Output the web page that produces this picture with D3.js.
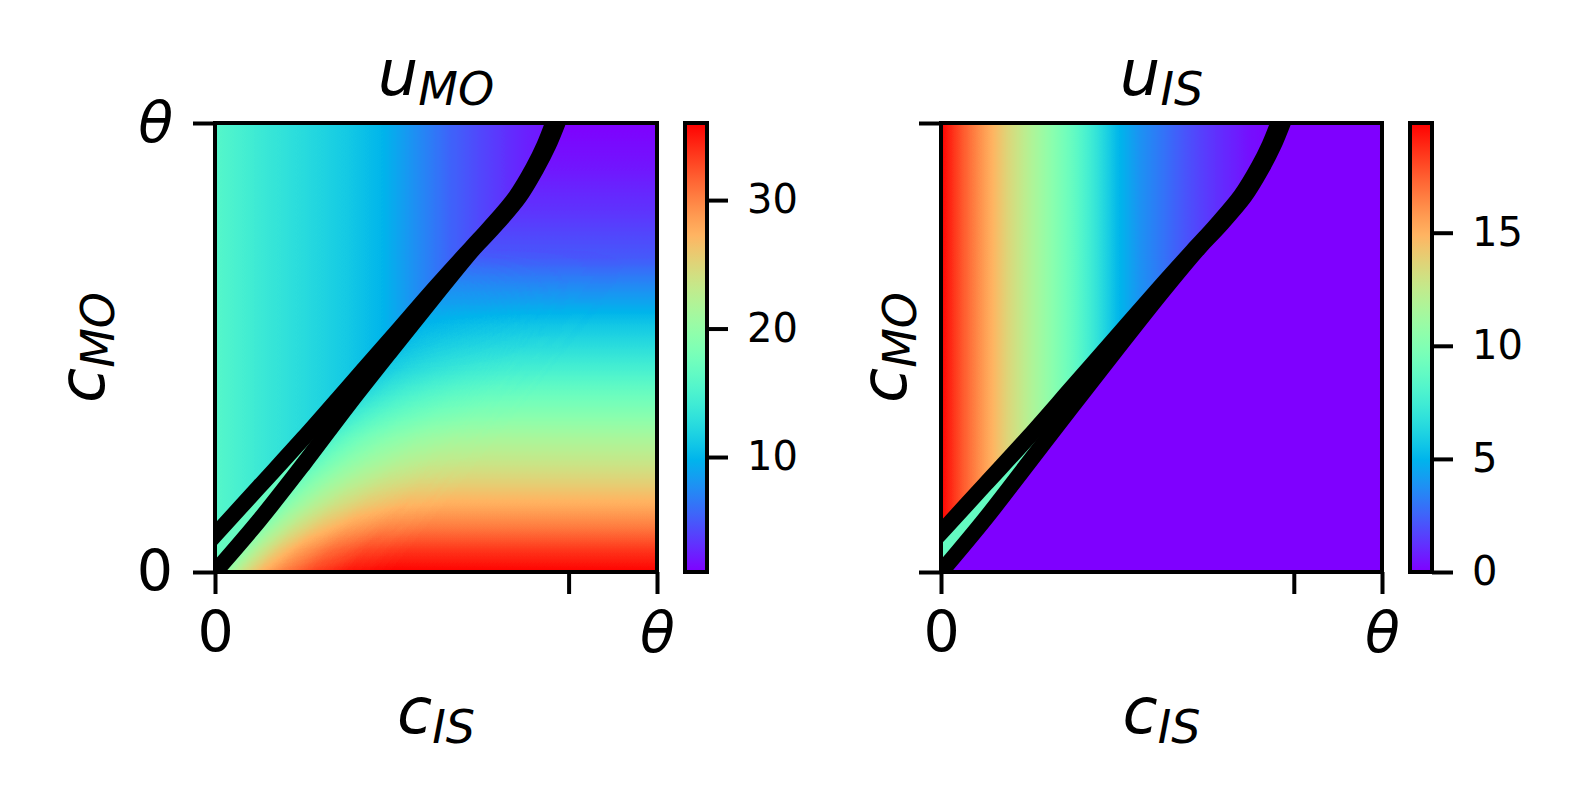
<!DOCTYPE html>
<html>
<head>
<meta charset="utf-8">
<script src="https://cdn.jsdelivr.net/npm/d3@7"></script>
<style>
  html, body { margin: 0; padding: 0; background: #fff; }
  svg { display: block; }
  text { font-family: "DejaVu Sans", sans-serif; fill: #000; }
</style>
</head>
<body>
<div id="mainDiv"></div>
<script>
'use strict';

// eixos (0 .. theta)
var xTicks = [0, 0.8, 1];
var xTickLabels = ['0', '', 'θ'];
var yTicks = [0, 1];
var yTickLabels = ['0', 'θ'];

// ---- u_MO ----
var moRange = [1.05, 36.0];
var moCbTicks = [10, 20, 30];
// region above the upper line: value depends on c_IS only
var moAX   = [0, 0.1, 0.2, 0.3, 0.38, 0.45, 0.53, 0.6, 0.68, 0.77];
var moAVal = [15.7, 14.0, 12.6, 11.2, 9.8, 7.7, 5.6, 4.2, 2.8, 1.6];
// region below the lower line: value depends on c_MO
var moBY   = [0, 0.05, 0.1, 0.15, 0.2, 0.25, 0.3, 0.35, 0.4, 0.45, 0.5, 0.55, 0.6, 0.65, 0.7, 0.8, 0.9, 1.0];
var moBVal = [36.0, 33.5, 30.4, 27.6, 25.3, 23.2, 21.3, 19.0, 16.9, 14.8, 12.8, 11.0, 8.9, 7.0, 5.0, 3.4, 2.0, 1.1];
// values right next to the lower line, and how fast they fade away from it
var moNearY   = [0, 0.1, 0.2, 0.3, 0.4, 0.5, 0.6];
var moNearVal = [15.5, 15.5, 14.8, 13.5, 11.5, 9.5, 8.0];
var moBlendDx = [0, 0.03, 0.06, 0.1, 0.15, 0.22, 0.3, 0.4];
var moBlendW  = [0.9, 0.75, 0.6, 0.44, 0.29, 0.14, 0.04, 0];
var moFadeY   = [0, 0.45, 0.6, 0.72];
var moFadeW   = [1, 1, 0.5, 0];
var moSliverVal = 16.8;
var moUpperX = [0, 0.1, 0.2, 0.3, 0.4, 0.5, 0.58, 0.62, 0.68, 0.72, 0.745, 0.765];
var moUpperY = [0.082, 0.19, 0.298, 0.41, 0.522, 0.635, 0.722, 0.765, 0.835, 0.9, 0.95, 1.0];
var moLowerX = [0, 0.1, 0.2, 0.3, 0.4, 0.5, 0.585, 0.628, 0.688, 0.728, 0.754, 0.775];
var moLowerY = [0, 0.115, 0.24, 0.37, 0.495, 0.618, 0.72, 0.765, 0.835, 0.9, 0.95, 1.0];

// ---- u_IS ----
var isRange = [0, 19.85];
var isCbTicks = [0, 5, 10, 15];
var isAX   = [0, 0.05, 0.1, 0.15, 0.2, 0.25, 0.3, 0.35, 0.4, 0.45, 0.5, 0.55, 0.6, 0.65, 0.7, 0.77];
var isAVal = [19.85, 17.6, 15.6, 13.6, 12.0, 10.4, 8.9, 7.1, 5.1, 3.9, 3.0, 2.2, 1.5, 0.9, 0.4, 0.0];
var isBVal = 0;
var isSliverVal = 8.9;
var isUpperX = [0, 0.1, 0.2, 0.3, 0.4, 0.5, 0.58, 0.62, 0.68, 0.72, 0.745, 0.765];
var isUpperY = [0.088, 0.195, 0.302, 0.414, 0.526, 0.638, 0.725, 0.768, 0.838, 0.902, 0.951, 1.0];
var isLowerX = [0, 0.1, 0.2, 0.3, 0.4, 0.5, 0.585, 0.628, 0.688, 0.728, 0.754, 0.775];
var isLowerY = [0, 0.118, 0.245, 0.372, 0.498, 0.622, 0.722, 0.767, 0.836, 0.9, 0.95, 1.0];

var chart = {};

chart.w = 1580;
chart.h = 807;
chart.top = 123;      // topo da area do grafico
chart.bottom = 572;   // base
chart.lineW = 16;
chart.spineW = 4;
chart.tickLen = 22;
chart.labelSize = 64;
chart.subSize = 46;
chart.tickSize = 57;
chart.cbTickSize = 40;

chart.panels = [
    { key: 'mo', left: 215, right: 657, cbLeft: 685, sub: 'MO', range: moRange, cbTicks: moCbTicks,
      aX: moAX, aVal: moAVal, bY: moBY, bVal: moBVal,
      nearY: moNearY, nearVal: moNearVal, blendDx: moBlendDx, blendW: moBlendW, fadeY: moFadeY, fadeW: moFadeW,
      sliver: moSliverVal, upperX: moUpperX, upperY: moUpperY, lowerX: moLowerX, lowerY: moLowerY,
      yLabels: yTickLabels, yTitleX: 104 },
    { key: 'is', left: 941, right: 1382, cbLeft: 1410, sub: 'IS', range: isRange, cbTicks: isCbTicks,
      aX: isAX, aVal: isAVal, bY: null, bVal: isBVal,
      nearY: null, sliver: isSliverVal, upperX: isUpperX, upperY: isUpperY, lowerX: isLowerX, lowerY: isLowerY,
      yLabels: ['', ''], yTitleX: 906 }
];

// matplotlib 'rainbow'
chart.rainbow = function(t)
{
    t = Math.max(0, Math.min(1, t));
    return d3.rgb(255 * Math.min(1, Math.abs(2 * t - 0.5)),
                  255 * Math.max(0, Math.sin(Math.PI * t)),
                  255 * Math.max(0, Math.cos(Math.PI * t / 2)));
}

// valor -> nivel de cinza (o filtro transforma o cinza nas cores do mapa)
chart.gray = function(range)
{
    var s = d3.scaleLinear().domain(range).range([0, 255]).clamp(true);
    return function(v) { var g = Math.round(s(v)); return 'rgb(' + g + ',' + g + ',' + g + ')'; };
}

chart.linGrad = function(defs, id, x1, y1, x2, y2, offsets, colors, opacities)
{
    var g = defs.append('linearGradient')
        .attr('id', id)
        .attr('gradientUnits', 'userSpaceOnUse')
        .attr('x1', x1).attr('y1', y1).attr('x2', x2).attr('y2', y2);
    offsets.forEach(function(o, i) {
        g.append('stop')
            .attr('offset', o)
            .attr('stop-color', colors[i])
            .attr('stop-opacity', opacities ? opacities[i] : 1);
    });
    return 'url(#' + id + ')';
}

chart.appendSvg = function(div)
{
    var svg = d3.select(div).append('svg')
        .attr('width', chart.w)
        .attr('height', chart.h);
    svg.append('rect').attr('width', chart.w).attr('height', chart.h).attr('fill', '#fff');
    return svg;
}

chart.addColormapFilter = function(defs)
{
    var n = 64;
    var samples = d3.range(n + 1).map(function(i) { return chart.rainbow(i / n); });
    var f = defs.append('filter')
        .attr('id', 'cmap')
        .attr('color-interpolation-filters', 'sRGB')
        .attr('x', 0).attr('y', 0).attr('width', 1).attr('height', 1);
    var ct = f.append('feComponentTransfer');
    ['r', 'g', 'b'].forEach(function(c) {
        ct.append('feFunc' + c.toUpperCase())
            .attr('type', 'table')
            .attr('tableValues', samples.map(function(s) { return (s[c] / 255).toFixed(4); }).join(' '));
    });
}

chart.mathText = function(g, base, sub)
{
    g.append('tspan').attr('font-style', 'italic').attr('font-size', chart.labelSize).text(base);
    g.append('tspan').attr('font-style', 'italic').attr('font-size', chart.subSize).attr('dy', 10).text(sub);
}

chart.drawPanel = function(svg, defs, p)
{
    var x = d3.scaleLinear().domain([0, 1]).range([p.left, p.right]);
    var y = d3.scaleLinear().domain([0, 1]).range([chart.bottom, chart.top]);
    var gray = chart.gray(p.range);
    var id = p.key;
    var pw = x(1) - x(0), ph = y(0) - y(1);
    var curve = d3.curveCatmullRom.alpha(0.5);

    defs.append('clipPath').attr('id', id + '-clip')
        .append('rect').attr('x', x(0)).attr('y', y(1)).attr('width', pw).attr('height', ph);

    var upper = d3.zip(p.upperX, p.upperY);
    var lower = d3.zip(p.lowerX, p.lowerY);

    var clipG = svg.append('g').attr('clip-path', 'url(#' + id + '-clip)');
    var heat = clipG.append('g').attr('filter', 'url(#cmap)');

    // abaixo da linha inferior
    var bFill = p.bY
        ? chart.linGrad(defs, id + '-b', 0, y(0), 0, y(1), p.bY, p.bVal.map(gray))
        : gray(p.bVal);
    heat.append('rect').attr('x', x(0)).attr('y', y(1)).attr('width', pw).attr('height', ph).attr('fill', bFill);

    // mistura perto da linha inferior
    if (p.nearY)
    {
        var nearFill = chart.linGrad(defs, id + '-near', 0, y(0), 0, y(1), p.nearY, p.nearVal.map(gray));
        var x0 = x(lower[0][0]), y0 = y(lower[0][1]);
        var ux = x(lower[4][0]) - x0, uy = y(lower[4][1]) - y0;
        var len = Math.sqrt(ux * ux + uy * uy);
        ux /= len; uy /= len;
        var maxDx = p.blendDx[p.blendDx.length - 1];
        var D = maxDx * pw * Math.abs(uy);
        var perp = chart.linGrad(defs, id + '-perpg', x0, y0, x0 - uy * D, y0 + ux * D,
            p.blendDx.map(function(d) { return d / maxDx; }),
            p.blendDx.map(function() { return '#fff'; }), p.blendW);
        var fade = chart.linGrad(defs, id + '-fadeg', 0, y(0), 0, y(1), p.fadeY,
            p.fadeY.map(function() { return '#fff'; }), p.fadeW);

        [[id + '-perp', perp], [id + '-fade', fade]].forEach(function(m) {
            defs.append('mask').attr('id', m[0])
                .attr('maskUnits', 'userSpaceOnUse')
                .attr('x', x(0)).attr('y', y(1)).attr('width', pw).attr('height', ph)
                .append('rect').attr('x', x(0)).attr('y', y(1)).attr('width', pw).attr('height', ph)
                .attr('fill', m[1]);
        });

        heat.append('g').attr('mask', 'url(#' + id + '-fade)')
            .append('rect')
            .attr('x', x(0)).attr('y', y(1)).attr('width', pw).attr('height', ph)
            .attr('fill', nearFill)
            .attr('mask', 'url(#' + id + '-perp)');
    }

    // faixa entre as duas linhas
    var above = d3.area()
        .x(function(d) { return x(d[0]); })
        .y0(function(d) { return y(d[1]); })
        .y1(y(1))
        .curve(curve);
    heat.append('path').attr('d', above(lower)).attr('fill', gray(p.sliver));

    // acima da linha superior
    var aFill = chart.linGrad(defs, id + '-a', x(0), 0, x(1), 0, p.aX, p.aVal.map(gray));
    heat.append('path').attr('d', above(upper)).attr('fill', aFill);

    // linhas de fronteira
    var line = d3.line()
        .x(function(d) { return x(d[0]); })
        .y(function(d) { return y(d[1]); })
        .curve(curve);
    [lower, upper].forEach(function(pts) {
        clipG.append('path')
            .attr('d', line(pts))
            .attr('fill', 'none')
            .attr('stroke', '#000')
            .attr('stroke-width', chart.lineW)
            .attr('stroke-linecap', 'square');
    });

    // eixos
    var xAxis = svg.append('g')
        .attr('transform', 'translate(0,' + y(0) + ')')
        .call(d3.axisBottom(x).tickValues(xTicks)
            .tickFormat(function(d, i) { return xTickLabels[i]; })
            .tickSize(chart.tickLen).tickPadding(18));
    var yAxis = svg.append('g')
        .attr('transform', 'translate(' + x(0) + ',0)')
        .call(d3.axisLeft(y).tickValues(yTicks)
            .tickFormat(function(d, i) { return p.yLabels[i]; })
            .tickSize(chart.tickLen).tickPadding(20));
    [xAxis, yAxis].forEach(function(a) {
        a.select('.domain').remove();
        a.attr('font-size', chart.tickSize).attr('font-family', 'DejaVu Sans');
        a.selectAll('line').attr('stroke-width', chart.spineW);
        a.selectAll('text').attr('font-style', function(d) { return d === 1 ? 'italic' : null; });
    });

    svg.append('rect')
        .attr('x', x(0)).attr('y', y(1)).attr('width', pw).attr('height', ph)
        .attr('fill', 'none').attr('stroke', '#000').attr('stroke-width', chart.spineW);

    // titulo e rotulos
    chart.mathText(svg.append('text').attr('x', (x(0) + x(1)) / 2).attr('y', 95).attr('text-anchor', 'middle'), 'u', p.sub);
    chart.mathText(svg.append('text').attr('x', (x(0) + x(1)) / 2).attr('y', 733).attr('text-anchor', 'middle'), 'c', 'IS');
    chart.mathText(svg.append('text')
        .attr('transform', 'translate(' + p.yTitleX + ',' + ((y(0) + y(1)) / 2) + ') rotate(-90)')
        .attr('text-anchor', 'middle'), 'c', 'MO');

    chart.drawColorbar(svg, defs, p, y);
}

chart.drawColorbar = function(svg, defs, p, y)
{
    var cbW = 22;
    var cb = d3.scaleLinear().domain(p.range).range([y(0), y(1)]);
    var color = d3.scaleSequential(chart.rainbow).domain(p.range);
    var offs = d3.range(33).map(function(i) { return i / 32; });
    var fill = chart.linGrad(defs, p.key + '-cb', 0, y(0), 0, y(1), offs,
        offs.map(function(o) { return color(p.range[0] + o * (p.range[1] - p.range[0])); }));

    svg.append('rect')
        .attr('x', p.cbLeft).attr('y', y(1)).attr('width', cbW).attr('height', y(0) - y(1))
        .attr('fill', fill).attr('stroke', '#000').attr('stroke-width', chart.spineW);

    var ax = svg.append('g')
        .attr('transform', 'translate(' + (p.cbLeft + cbW) + ',0)')
        .call(d3.axisRight(cb).tickValues(p.cbTicks).tickSize(21).tickPadding(19));
    ax.select('.domain').remove();
    ax.attr('font-size', chart.cbTickSize).attr('font-family', 'DejaVu Sans');
    ax.selectAll('line').attr('stroke-width', chart.spineW);
}

chart.run = function()
{
    var svg = chart.appendSvg('#mainDiv');
    var defs = svg.append('defs');
    chart.addColormapFilter(defs);
    chart.panels.forEach(function(p) { chart.drawPanel(svg, defs, p); });
}

window.onload = chart.run;
</script>
</body>
</html>
